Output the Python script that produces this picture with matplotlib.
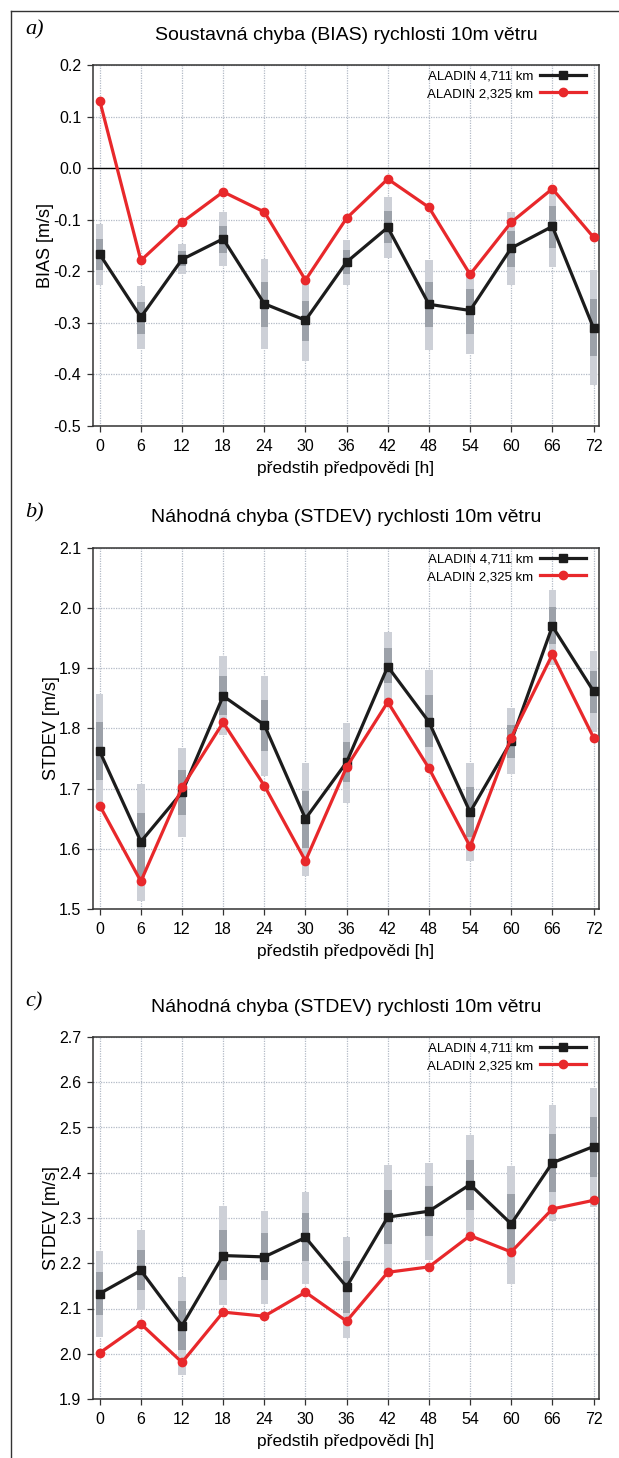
import numpy as np
import matplotlib
matplotlib.use("Agg")
import matplotlib.pyplot as plt
from matplotlib.lines import Line2D

plt.rcParams['font.family'] = ['Liberation Sans', 'DejaVu Sans']
plt.rcParams['axes.unicode_minus'] = False

# data
hours = [0, 6, 12, 18, 24, 30, 36, 42, 48, 54, 60, 66, 72]
labels = ["ALADIN 4,711 km", "ALADIN 2,325 km"]

# a) BIAS
bias_4711 = [-0.167, -0.289, -0.177, -0.137, -0.263, -0.295, -0.182, -0.115, -0.264, -0.276, -0.155, -0.113, -0.310]
bias_2325 = [0.131, -0.179, -0.105, -0.046, -0.085, -0.217, -0.097, -0.021, -0.076, -0.206, -0.105, -0.040, -0.134]
bias_light_lo = [-0.226, -0.350, -0.205, -0.190, -0.350, -0.374, -0.227, -0.175, -0.352, -0.361, -0.227, -0.192, -0.421]
bias_light_hi = [-0.108, -0.229, -0.148, -0.086, -0.177, -0.217, -0.139, -0.055, -0.179, -0.197, -0.086, -0.034, -0.198]
bias_dark_lo = [-0.197, -0.321, -0.190, -0.165, -0.308, -0.335, -0.205, -0.146, -0.309, -0.321, -0.192, -0.154, -0.365]
bias_dark_hi = [-0.137, -0.259, -0.161, -0.113, -0.220, -0.257, -0.158, -0.084, -0.220, -0.235, -0.121, -0.073, -0.253]

# b) STDEV
sd_4711 = [1.762, 1.612, 1.694, 1.854, 1.806, 1.650, 1.744, 1.903, 1.811, 1.661, 1.779, 1.970, 1.862]
sd_2325 = [1.672, 1.546, 1.702, 1.810, 1.705, 1.580, 1.736, 1.844, 1.734, 1.604, 1.785, 1.923, 1.785]
sd_light_lo = [1.670, 1.514, 1.620, 1.789, 1.721, 1.555, 1.677, 1.847, 1.728, 1.579, 1.724, 1.905, 1.794]
sd_light_hi = [1.857, 1.708, 1.767, 1.921, 1.888, 1.742, 1.809, 1.961, 1.897, 1.742, 1.834, 2.031, 1.928]
sd_dark_lo = [1.715, 1.554, 1.656, 1.822, 1.763, 1.601, 1.711, 1.876, 1.770, 1.620, 1.751, 1.941, 1.826]
sd_dark_hi = [1.810, 1.660, 1.731, 1.888, 1.847, 1.696, 1.777, 1.933, 1.855, 1.703, 1.806, 2.002, 1.895]

# c) STDEV
sd2_4711 = [2.133, 2.184, 2.062, 2.217, 2.214, 2.257, 2.148, 2.302, 2.315, 2.374, 2.287, 2.422, 2.458]
sd2_2325 = [2.002, 2.066, 1.981, 2.092, 2.083, 2.136, 2.072, 2.180, 2.192, 2.261, 2.225, 2.320, 2.339]
sd2_light_lo = [2.038, 2.096, 1.954, 2.108, 2.111, 2.155, 2.035, 2.184, 2.208, 2.263, 2.155, 2.293, 2.324]
sd2_light_hi = [2.226, 2.274, 2.169, 2.327, 2.316, 2.358, 2.259, 2.418, 2.422, 2.484, 2.416, 2.550, 2.587]
sd2_dark_lo = [2.085, 2.140, 2.008, 2.162, 2.162, 2.204, 2.089, 2.243, 2.261, 2.318, 2.230, 2.357, 2.391]
sd2_dark_hi = [2.180, 2.230, 2.116, 2.274, 2.266, 2.311, 2.204, 2.361, 2.370, 2.429, 2.352, 2.486, 2.524]

panels = [
    ("a)", "Soustavná chyba (BIAS) rychlosti 10m větru", "BIAS [m/s]",
     bias_4711, bias_2325, bias_light_lo, bias_light_hi, bias_dark_lo, bias_dark_hi,
     (-0.5, 0.2), np.arange(-0.5, 0.21, 0.1)),
    ("b)", "Náhodná chyba (STDEV) rychlosti 10m větru", "STDEV [m/s]",
     sd_4711, sd_2325, sd_light_lo, sd_light_hi, sd_dark_lo, sd_dark_hi,
     (1.5, 2.1), np.arange(1.5, 2.11, 0.1)),
    ("c)", "Náhodná chyba (STDEV) rychlosti 10m větru", "STDEV [m/s]",
     sd2_4711, sd2_2325, sd2_light_lo, sd2_light_hi, sd2_dark_lo, sd2_dark_hi,
     (1.9, 2.7), np.arange(1.9, 2.71, 0.1)),
]

W, H = 619, 1458
fig = plt.figure(figsize=(W / 100, H / 100), dpi=100)

# axes boxes in pixels: (top, bottom)
boxes = [(65, 426), (548, 909), (1037, 1399)]
left_px, right_px = 93, 599

light = "#cdd0d7"
dark = "#9ca1a9"
red = "#e8282b"
black = "#1c1c1c"
gridc = "#b3bac6"

for (tag, title, ylab, s1, s2, llo, lhi, dlo, dhi, ylim, yt), (top, bot) in zip(panels, boxes):
    ax = fig.add_axes([left_px / W, 1 - bot / H, (right_px - left_px) / W, (bot - top) / H])
    x = np.array(hours)
    ax.bar(x, np.array(lhi) - np.array(llo), bottom=llo, width=1.1, color=light, zorder=2)
    ax.bar(x, np.array(dhi) - np.array(dlo), bottom=dlo, width=1.1, color=dark, zorder=2)
    if ylim[0] < 0 < ylim[1]:
        ax.axhline(0, color="black", lw=1.0, zorder=3)
    ax.plot(x, s1, color=black, lw=2.3, marker="s", ms=6, label=labels[0], zorder=4)
    ax.plot(x, s2, color=red, lw=2.3, marker="o", ms=6, label=labels[1], zorder=5)

    ax.set_xlim(-0.98, 72.8)
    ax.set_ylim(*ylim)
    ax.set_xticks(hours)
    ax.set_yticks(yt)
    ax.set_yticklabels(["%.1f" % (round(v, 1) + 0.0) for v in yt])
    ax.grid(True, color=gridc, linestyle=(0, (1, 1)), lw=0.9, zorder=1)
    ax.set_axisbelow(True)
    ax.tick_params(labelsize=11.5, length=4.5, width=0.9, color="#333333")
    ax.tick_params(axis="x", pad=5)
    ax.tick_params(axis="y", pad=4)
    for sp in ax.spines.values():
        sp.set_linewidth(1.1)
        sp.set_color("#333333")
    ax.set_ylabel(ylab, fontsize=13, labelpad=-0.5)
    ax.set_xlabel("předstih předpovědi [h]", fontsize=12.5, labelpad=5)

    leg = ax.legend(loc="upper right", frameon=False, markerfirst=False, fontsize=9.5,
                    handlelength=3.5, handletextpad=0.5, labelspacing=0.4,
                    borderaxespad=0.3, borderpad=0.1, bbox_to_anchor=(0.985, 1.0))

    fig.text((left_px + right_px) / 2 / W, 1 - (top - 30) / H, title,
             ha="center", va="center", fontsize=14)
    fig.text(25 / W, 1 - (top - 35) / H, tag, ha="left", va="center", fontsize=16,
             family="Liberation Serif", style="italic")

# outer frame (top and left edges)
fig.add_artist(Line2D([11 / W, 1], [1 - 11 / H, 1 - 11 / H], transform=fig.transFigure,
                      color="#333333", lw=1.0))
fig.add_artist(Line2D([11 / W, 11 / W], [0, 1 - 11 / H], transform=fig.transFigure,
                      color="#333333", lw=1.0))

fig.savefig("out.png", dpi=100)
